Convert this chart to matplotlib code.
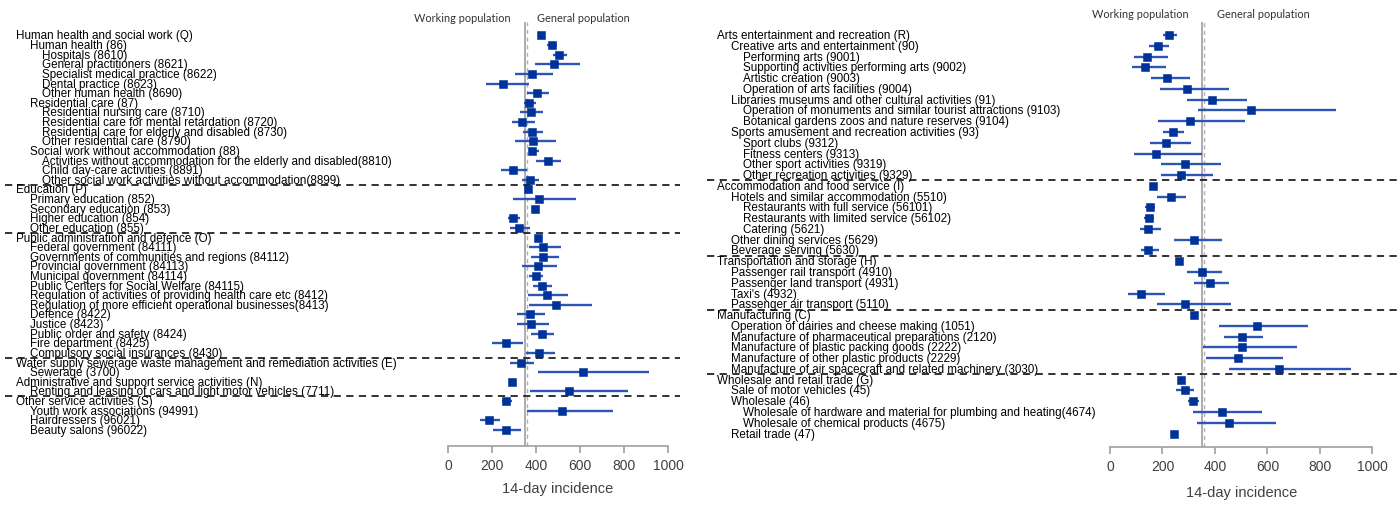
import matplotlib
matplotlib.use("Agg")
import matplotlib.pyplot as plt
import matplotlib.transforms as mtransforms
import numpy as np

# ---------------- data ----------------
left_labels = [
    "Human health and social work (Q)",
    "Human health (86)",
    "Hospitals (8610)",
    "General practitioners (8621)",
    "Specialist medical practice (8622)",
    "Dental practice (8623)",
    "Other human health (8690)",
    "Residential care (87)",
    "Residential nursing care (8710)",
    "Residential care for mental retardation (8720)",
    "Residential care for elderly and disabled (8730)",
    "Other residential care (8790)",
    "Social work without accommodation (88)",
    "Activities without accommodation for the elderly and disabled(8810)",
    "Child day-care activities (8891)",
    "Other social work activities without accommodation(8899)",
    "Education (P)",
    "Primary education (852)",
    "Secondary education (853)",
    "Higher education (854)",
    "Other education (855)",
    "Public administration and defence (O)",
    "Federal government (84111)",
    "Governments of communities and regions (84112)",
    "Provincial government (84113)",
    "Municipal government (84114)",
    "Public Centers for Social Welfare (84115)",
    "Regulation of activities of providing health care etc (8412)",
    "Regulation of more efficient operational businesses(8413)",
    "Defence (8422)",
    "Justice (8423)",
    "Public order and safety (8424)",
    "Fire department (8425)",
    "Compulsory social insurances (8430)",
    "Water supply sewerage waste management and remediation activities (E)",
    "Sewerage (3700)",
    "Administrative and support service activities (N)",
    "Renting and leasing of cars and light motor vehicles (7711)",
    "Other service activities (S)",
    "Youth work associations (94991)",
    "Hairdressers (96021)",
    "Beauty salons (96022)",
]
left_levels = [0, 1, 2, 2, 2, 2, 2, 1, 2, 2, 2, 2, 1, 2, 2, 2,
               0, 1, 1, 1, 1,
               0, 1, 1, 1, 1, 1, 1, 1, 1, 1, 1, 1, 1,
               0, 1, 0, 1,
               0, 1, 1, 1]
left_est = [423, 473, 506, 483, 383, 249, 403, 370, 377, 336, 382, 388, 383, 453, 297, 374,
            365, 414, 394, 297, 323,
            408, 432, 433, 408, 399, 427, 449, 492, 374, 377, 429, 265, 414,
            333, 612, 291, 552,
            264, 517, 185, 264]
left_lo = [423, 449, 479, 395, 305, 171, 361, 344, 329, 289, 339, 305, 367, 400, 240, 335,
           365, 294, 394, 271, 280,
           408, 370, 379, 335, 370, 385, 365, 370, 315, 315, 379, 201, 353,
           280, 409, 291, 374,
           245, 361, 147, 205]
left_hi = [423, 494, 540, 600, 476, 367, 458, 399, 432, 397, 432, 491, 412, 515, 359, 414,
           365, 582, 394, 327, 373,
           408, 512, 503, 497, 432, 473, 547, 656, 442, 458, 480, 342, 486,
           392, 914, 291, 818,
           292, 750, 238, 332]
left_breaks = [16, 21, 34, 38]

right_labels = [
    "Arts entertainment and recreation (R)",
    "Creative arts and entertainment (90)",
    "Performing arts (9001)",
    "Supporting activities performing arts (9002)",
    "Artistic creation (9003)",
    "Operation of arts facilities (9004)",
    "Libraries museums and other cultural activities (91)",
    "Operation of monuments and similar tourist attractions (9103)",
    "Botanical gardens zoos and nature reserves (9104)",
    "Sports amusement and recreation activities (93)",
    "Sport clubs (9312)",
    "Fitness centers (9313)",
    "Other sport activities (9319)",
    "Other recreation activities (9329)",
    "Accommodation and food service (I)",
    "Hotels and similar accommodation (5510)",
    "Restaurants with full service (56101)",
    "Restaurants with limited service (56102)",
    "Catering (5621)",
    "Other dining services (5629)",
    "Beverage serving (5630)",
    "Transportation and storage (H)",
    "Passenger rail transport (4910)",
    "Passenger land transport (4931)",
    "Taxi's (4932)",
    "Passenger air transport (5110)",
    "Manufacturing (C)",
    "Operation of dairies and cheese making (1051)",
    "Manufacture of pharmaceutical preparations (2120)",
    "Manufacture of plastic packing goods (2222)",
    "Manufacture of other plastic products (2229)",
    "Manufacture of air spacecraft and related machinery (3030)",
    "Wholesale and retail trade (G)",
    "Sale of motor vehicles (45)",
    "Wholesale (46)",
    "Wholesale of hardware and material for plumbing and heating(4674)",
    "Wholesale of chemical products (4675)",
    "Retail trade (47)",
]
right_levels = [0, 1, 2, 2, 2, 2, 1, 2, 2, 1, 2, 2, 2, 2,
                0, 1, 2, 2, 2, 1, 1,
                0, 1, 1, 1, 1,
                0, 1, 1, 1, 1, 1,
                0, 1, 1, 2, 2, 1]
right_est = [226, 184, 142, 135, 217, 294, 390, 539, 306, 239, 213, 175, 285, 272,
             164, 231, 151, 147, 146, 322, 146,
             264, 352, 381, 117, 285,
             322, 562, 502, 502, 489, 644,
             272, 285, 318, 427, 455, 243]
right_lo = [203, 149, 90, 85, 156, 189, 294, 337, 182, 203, 152, 90, 194, 194,
            164, 180, 135, 131, 114, 244, 118,
            264, 294, 319, 67, 180,
            322, 416, 436, 356, 365, 452,
            272, 252, 297, 318, 330, 243]
right_hi = [254, 225, 221, 213, 305, 452, 522, 860, 515, 283, 309, 350, 422, 394,
            164, 289, 170, 167, 196, 426, 187,
            264, 427, 455, 208, 460,
            322, 756, 585, 714, 661, 919,
            272, 321, 338, 581, 632, 243]
right_breaks = [14, 21, 26, 32]

working_ref = 352     # solid grey reference line
general_ref = 360     # dashed grey reference line
xticks = [0, 200, 400, 600, 800, 1000]

# ---------------- figure ----------------
W, H = 1400, 506
fig = plt.figure(figsize=(W / 100, H / 100), dpi=100)

MARKER = "#003399"
CI = "#2d55b3"
LABEL_FONT = ["Liberation Sans", "DejaVu Sans"]


def px_x(x):
    return x / W


def draw_panel(rect, ylim, labels, levels, est, lo, hi, breaks, indents,
               sep_span, head_x, head_y, labelpad):
    ax = fig.add_axes(rect)
    n = len(labels)
    y = np.arange(n)
    ax.set_xlim(0, 1000)
    ax.set_ylim(*ylim)
    ax.axvline(working_ref, color="#a0a0a0", lw=1.2, zorder=1)
    ax.axvline(general_ref, color="#b0b0b0", lw=1.0, ls=(0, (3, 2.5)), zorder=1)
    ax.hlines(y, lo, hi, color=CI, lw=1.7, zorder=2)
    ax.plot(est, y, ls="none", marker="s", ms=5.2, color=MARKER,
            mec=MARKER, mew=0.4, zorder=3)
    for s in ("left", "top", "right"):
        ax.spines[s].set_visible(False)
    ax.spines["bottom"].set_color("#a0a0a0")
    ax.spines["bottom"].set_linewidth(1.2)
    ax.spines["bottom"].set_bounds(0, 1000)
    ax.set_yticks([])
    ax.set_xticks(xticks)
    ax.tick_params(axis="x", colors="#a0a0a0", length=5, width=1.2,
                   labelcolor="#404040", labelsize=10, pad=4)
    for t in ax.get_xticklabels():
        t.set_fontfamily(LABEL_FONT)
    ax.set_xlabel("14-day incidence", fontsize=10.5, color="#404040",
                  labelpad=labelpad, family=LABEL_FONT)

    tr = mtransforms.blended_transform_factory(fig.transFigure, ax.transData)
    for i, (lab, lev) in enumerate(zip(labels, levels)):
        fig.text(px_x(indents[lev]), i, lab, transform=tr, ha="left",
                 va="center", fontsize=8.4, family=LABEL_FONT, color="black")
    for b in breaks:
        ax.plot([px_x(sep_span[0]), px_x(sep_span[1])], [b - 0.5, b - 0.5],
                transform=tr, color="#222222", lw=1.3, ls=(0, (4, 3)),
                clip_on=False, zorder=4)
    fig.text(px_x(head_x[0]), 1 - head_y / H, "Working population",
             ha="center", va="center", fontsize=7.9, color="#333333",
             family=["Lato", "DejaVu Sans"])
    fig.text(px_x(head_x[1]), 1 - head_y / H, "General population",
             ha="center", va="center", fontsize=7.9, color="#333333",
             family=["Lato", "DejaVu Sans"])
    return ax


# left panel: x 0 -> 448 px, 1000 -> 668 px ; y top 23 px, bottom 447 px
draw_panel([448 / W, (H - 447) / H, 220 / W, 424 / H], (42.67, -1.40),
           left_labels, left_levels, left_est, left_lo, left_hi, left_breaks,
           indents=[16, 30, 42], sep_span=(5, 680), head_x=(462, 583),
           head_y=19, labelpad=6)

# right panel: x 0 -> 1110 px, 1000 -> 1372 px ; y top 23 px, bottom 448 px
draw_panel([1110 / W, (H - 448) / H, 262.3 / W, 425 / H], (38.25, -1.21),
           right_labels, right_levels, right_est, right_lo, right_hi, right_breaks,
           indents=[717, 731, 743], sep_span=(707, 1400), head_x=(1140, 1263),
           head_y=14, labelpad=8)

fig.savefig("out.png", dpi=100)
